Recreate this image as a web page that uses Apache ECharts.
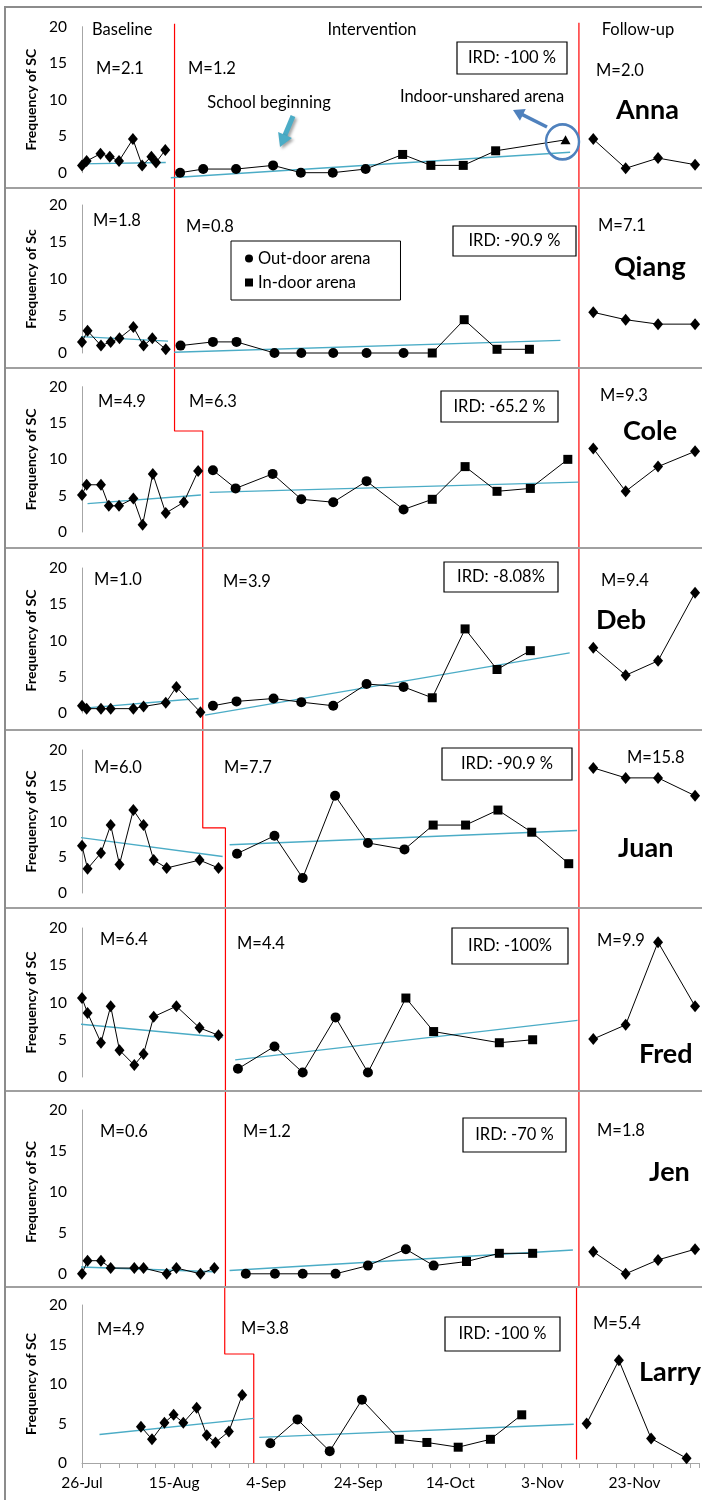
<!DOCTYPE html>
<html><head><meta charset="utf-8">
<script src="https://cdn.jsdelivr.net/npm/echarts@6/dist/echarts.min.js"></script>
<style>html,body{margin:0;padding:0;background:#fff}#c{width:702px;height:1500px}</style>
</head><body><div id="c"></div>
<script>
// ---------------- DATA (x = days since 26-Jul) ----------------
const participants = ['Anna','Qiang','Cole','Deb','Juan','Fred','Jen','Larry'];
const yNames = ['Frequency of SC','Frequency of Sc','Frequency of SC','Frequency of SC','Frequency of SC','Frequency of SC','Frequency of SC','Frequency of SC'];
const xTickLabels = ['26-Jul','15-Aug','4-Sep','24-Sep','14-Oct','3-Nov','23-Nov'];

const baseDays = [
  [0,1,4,6,8,11,13,15,16,18],
  [0,1.2,4.1,6.2,8.1,11.1,13.3,15.2,18.1],
  [0,1,4.1,5.8,8,11.1,13.1,15.3,18.1,22,25.1],
  [0,1,4.1,6.2,11.1,13.3,18.1,20.4,25.6],
  [0,1.2,4.1,6.2,8.1,11.1,13.3,15.5,18.3,25.4,29.5],
  [0,1.2,4.1,6.2,8.1,11.3,13.3,15.5,20.4,25.4,29.5],
  [0,1.2,4.1,6.2,11.3,13.3,18.3,20.4,25.6,28.6],
  [12.8,15.2,17.9,19.9,22,24.9,27.1,29,31.9,34.8]
];
const baseVals = [
  [1.0,1.6,2.6,2.2,1.6,4.6,1.0,2.2,1.4,3.1],
  [1.5,3.0,1.0,1.5,2.0,3.5,1.0,2.0,0.5],
  [5.1,6.5,6.5,3.6,3.6,4.6,1.0,8.0,2.6,4.1,8.4],
  [1.0,0.6,0.6,0.6,0.6,0.9,1.4,3.6,0.1],
  [6.6,3.4,5.6,9.5,4.0,11.6,9.5,4.6,3.5,4.6,3.5],
  [10.6,8.6,4.6,9.5,3.6,1.6,3.1,8.1,9.5,6.6,5.6],
  [0,1.6,1.6,0.7,0.7,0.7,0,0.7,0,0.7],
  [4.6,3.0,5.1,6.1,5.1,7.0,3.5,2.6,4.0,8.6]
];
const intDays = [
  [21.2,26.2,33.3,41.3,47.3,54.2,61.3,69.3,75.4,82.4,89.4,104.5],
  [21.3,28.3,33.4,41.6,47.4,54.3,61.5,69.5,75.7,82.6,89.7,96.7],
  [28.3,33.2,41.2,47.4,54.3,61.5,69.5,75.7,82.8,89.7,96.9,105],
  [28.3,33.4,41.4,47.4,54.3,61.5,69.5,75.7,82.8,89.7,96.9],
  [33.5,41.6,47.7,54.7,61.8,69.7,75.9,82.9,89.9,97.2,105.2],
  [33.7,41.6,47.7,54.8,61.8,70,76,90.2,97.4],
  [35.4,41.7,47.7,54.8,61.8,70,76,83.1,90.2,97.4],
  [40.9,46.8,53.8,60.8,68.9,74.9,81.7,88.7,95.5]
];
const intVals = [
  [0,0.5,0.5,1.0,0,0,0.5,2.5,1.0,1.0,3.0,4.5],
  [1.0,1.5,1.5,0,0,0,0,0,0,4.5,0.5,0.5],
  [8.5,6.0,8.0,4.5,4.1,7.0,3.1,4.5,9.0,5.6,6.0,10.0],
  [1.0,1.6,2.0,1.5,1.0,4.0,3.6,2.1,11.6,6.0,8.6],
  [5.5,8.0,2.1,13.6,7.0,6.1,9.5,9.5,11.6,8.5,4.1],
  [1.1,4.1,0.6,8.0,0.6,10.6,6.1,4.6,5.0],
  [0,0,0,0,1.0,3.0,1.0,1.5,2.5,2.5],
  [2.5,5.5,1.5,8.0,3.0,2.6,2.0,3.0,6.1]
];
// o = out-door arena, i = in-door arena, u = indoor-unshared arena
const intArena = [
  'oooooooiiiiu',
  'ooooooooiiii',
  'oooooooiiiii',
  'oooooooiiii',
  'ooooooiiiii',
  'oooooiiii',
  'oooooooiii',
  'ooooiiiii'
];
const followDays = [
  [110.5,117.5,124.5,132.5],[110.5,117.5,124.5,132.5],[110.5,117.5,124.5,132.5],[110.5,117.5,124.5,132.5],
  [110.5,117.5,124.5,132.5],[110.5,117.5,124.5,132.5],[110.5,117.5,124.5,132.5],[109.6,116.6,123.6,131.3]
];
const followVals = [
  [4.6,0.6,2.0,1.1],
  [5.5,4.5,3.9,3.9],
  [11.5,5.6,9.0,11.1],
  [9.0,5.2,7.2,16.6],
  [17.5,16.1,16.1,13.6],
  [5.1,7.0,18.1,9.5],
  [2.7,0,1.7,3.0],
  [5.0,13.0,3.1,0.6]
];
const baseTrend = [
  [[-1.0,1.2],[18.1,1.4]],
  [[-1.5,2.25],[18.6,1.6]],
  [[1.2,3.9],[25.7,5.1]],
  [[-0.8,0.6],[25.2,2.0]],
  [[-0.8,7.8],[30.4,5.1]],
  [[-0.5,7.1],[30.4,5.3]],
  [[-0.8,0.85],[28.6,0.25]],
  [[3.8,3.6],[37.3,5.65]]
];
const intTrend = [
  [[19.2,-0.7],[105.5,2.8]],
  [[19.9,0.1],[103.4,1.7]],
  [[27.6,5.45],[107.3,6.86]],
  [[26.6,-0.3],[105.4,8.3]],
  [[31.9,6.75],[107,8.75]],
  [[33.1,2.3],[107.1,7.6]],
  [[31.9,0.4],[106.1,2.9]],
  [[38.5,3.25],[106.8,4.9]]
];
// phase change line: x where it crosses the panel's lower part; optional step (from x, at level)
const phaseDay = [20,20,26.1,26.1,31,31,31,37.3];
const phaseStepFrom = [null,null,20,null,26.1,null,null,31];
const phaseStepLevel = [null,null,13.9,null,9.1,null,null,13.8];
const followPhaseDay = 107.4;

const baseMeans = ['M=2.1','M=1.8','M=4.9','M=1.0','M=6.0','M=6.4','M=0.6','M=4.9'];
const intMeans = ['M=1.2','M=0.8','M=6.3','M=3.9','M=7.7','M=4.4','M=1.2','M=3.8'];
const followMeans = ['M=2.0','M=7.1','M=9.3','M=9.4','M=15.8','M=9.9','M=1.8','M=5.4'];
const irdLabels = ['IRD: -100 %','IRD: -90.9 %','IRD: -65.2 %','IRD: -8.08%','IRD: -90.9 %','IRD: -100%','IRD: -70 %','IRD: -100 %'];

// ---------------- LAYOUT ----------------
const FONT = 'Lato';
const TS = 16.5;
const layout = [
  {y20:26.7, y0:172.7, sepTop:7, sepBot:188},
  {y20:205, y0:353, sepTop:188, sepBot:368},
  {y20:386.7, y0:532, sepTop:368, sepBot:548},
  {y20:568, y0:713, sepTop:548, sepBot:730},
  {y20:750, y0:893, sepTop:730, sepBot:908},
  {y20:928, y0:1077, sepTop:908, sepBot:1091},
  {y20:1110, y0:1273.8, sepTop:1091, sepBot:1287},
  {y20:1305, y0:1463, sepTop:1287, sepBot:1500}
];
const textPos = [
  {bm:[96,69], im:[188,69], fm:[596,71], ird:[457,42,110,32], name:[616,110]},
  {bm:[93,221], im:[186,227], fm:[598,226], ird:[453,226,123,30], name:[614,267]},
  {bm:[98,402], im:[189,402], fm:[600,396], ird:[441,391,117,31], name:[623,431]},
  {bm:[94,580], im:[223,582], fm:[601,581], ird:[444,562,114,30], name:[596,620]},
  {bm:[94,768], im:[224,768], fm:[627,758], ird:[442,748,130,32], name:[618,848]},
  {bm:[100,940], im:[237,944], fm:[597,941], ird:[452,928,116,36], name:[639,1054]},
  {bm:[100,1132], im:[243,1132], fm:[597,1131], ird:[463,1118,103,34], name:[649,1172]},
  {bm:[97,1330], im:[241,1329], fm:[593,1324], ird:[445,1317,115,34], name:[639,1372]}
];

const zip = (a,b) => a.map((v,k)=>[v,b[k]]);
const grids=[], xAxes=[], yAxes=[], series=[], graphics=[];

function txt(x,y,s,o){
  o=o||{};
  return {type:'text', x:x, y:y, z:100, silent:true, style:{text:s, fontSize:o.size||TS, fontFamily:FONT,
    fontWeight:o.weight||'normal', fill:'#000', align:o.align||'left', verticalAlign:'middle'}};
}
function arrow(x1,y1,x2,y2,color,w,hl,hw,shadow){
  const a=Math.atan2(y2-y1,x2-x1);
  const bx=x2-hl*Math.cos(a), by=y2-hl*Math.sin(a);
  const px=-Math.sin(a), py=Math.cos(a);
  const sh = shadow ? {shadowBlur:3, shadowColor:'rgba(0,0,0,0.35)', shadowOffsetX:2, shadowOffsetY:2} : {};
  return [
    {type:'line', z:100, silent:true, shape:{x1:x1,y1:y1,x2:bx+(x2-bx)*0.2,y2:by+(y2-by)*0.2}, style:Object.assign({stroke:color, lineWidth:w}, sh)},
    {type:'polygon', z:100, silent:true, shape:{points:[[x2,y2],[bx+px*hw/2,by+py*hw/2],[bx-px*hw/2,by-py*hw/2]]}, style:Object.assign({fill:color}, sh)}
  ];
}

participants.forEach((p,i)=>{
  const L = layout[i];
  const last = i===participants.length-1;
  grids.push({left:82, right:0, top:L.y20, height:L.y0-L.y20});
  xAxes.push({gridIndex:i, type:'value', min:0, max:134, interval:4, show:last,
    axisLine:{show:last, lineStyle:{color:'#a6a6a6', width:1}},
    axisTick:{show:last, length:5, lineStyle:{color:'#a6a6a6'}},
    axisLabel:{show:last, fontSize:15.5, color:'#000', fontFamily:FONT, margin:12,
      formatter:v => (v%20===0 && v/20 < xTickLabels.length) ? xTickLabels[v/20] : ''},
    splitLine:{show:false}});
  yAxes.push({gridIndex:i, type:'value', min:0, max:20, interval:5,
    axisLine:{show:true, lineStyle:{color:'#a6a6a6', width:1}},
    axisTick:{show:false}, splitLine:{show:false},
    axisLabel:{fontSize:15.5, color:'#000', fontFamily:FONT, margin:15},
    name:yNames[i], nameLocation:'middle', nameGap:38, nameRotate:90,
    nameTextStyle:{fontSize:14, fontWeight:'bold', color:'#000', fontFamily:FONT}});

  const ppu=(L.y0-L.y20)/20;
  let vTop = 20+(L.y20-L.sepTop)/ppu;
  let vBot = -(L.sepBot-L.y0)/ppu;
  const common = {xAxisIndex:i, yAxisIndex:i, silent:true, animation:false};

  // phase-change lines (red)
  let pTop = i===0 ? 20.4 : vTop;
  let pBot = last ? 0 : vBot;
  let pl;
  if (phaseStepFrom[i]!==null) {
    pl=[[phaseStepFrom[i],pTop],[phaseStepFrom[i],phaseStepLevel[i]],[phaseDay[i],phaseStepLevel[i]],[phaseDay[i],pBot]];
  } else pl=[[phaseDay[i],pTop],[phaseDay[i],pBot]];
  series.push(Object.assign({type:'line', data:pl, symbol:'none', clip:false, z:1,
    lineStyle:{color:'#ff0000', width:1.2}}, common));
  series.push(Object.assign({type:'line', data:[[followPhaseDay, i===0?20.55:vTop],[followPhaseDay, last?0.45:vBot]],
    symbol:'none', clip:false, z:1, lineStyle:{color:'#ff0000', width:1.2}}, common));

  // trend lines
  [baseTrend[i], intTrend[i]].forEach(t=>{
    series.push(Object.assign({type:'line', data:t, symbol:'none', clip:false, z:2,
      lineStyle:{color:'#4bacc6', width:1.4}}, common));
  });

  const blk = {color:'#000', opacity:1};
  // baseline
  series.push(Object.assign({type:'line', name:'Baseline', data:zip(baseDays[i],baseVals[i]), clip:false, z:3,
    symbol:'diamond', symbolSize:[10,12], showAllSymbol:true,
    lineStyle:{color:'#000', width:1}, itemStyle:blk}, common));
  // intervention connecting line
  series.push(Object.assign({type:'line', data:zip(intDays[i],intVals[i]), symbol:'none', clip:false, z:3,
    lineStyle:{color:'#000', width:1}}, common));
  const pts = (ch)=> intDays[i].map((d,k)=>[d,intVals[i][k],intArena[i][k]]).filter(q=>q[2]===ch).map(q=>[q[0],q[1]]);
  series.push(Object.assign({type:'scatter', name:'Out-door arena', data:pts('o'), symbol:'circle', symbolSize:10, clip:false, z:4,
    itemStyle:blk}, common));
  series.push(Object.assign({type:'scatter', name:'In-door arena', data:pts('i'), symbol:'rect', symbolSize:9, clip:false, z:4,
    itemStyle:blk}, common));
  const u = pts('u');
  if (u.length) {
    series.push(Object.assign({type:'scatter', name:'Indoor-unshared arena', data:u, symbol:'triangle', symbolSize:[10,9], clip:false, z:4,
      itemStyle:blk}, common));
    series.push(Object.assign({type:'scatter', data:u, symbol:'circle', symbolSize:[33,35], symbolOffset:[-3,2], clip:false, z:5,
      itemStyle:{color:'rgba(0,0,0,0)', opacity:1, borderColor:'#4f81bd', borderWidth:2.5}}, common));
  }
  // follow-up
  series.push(Object.assign({type:'line', name:'Follow-up', data:zip(followDays[i],followVals[i]), clip:false, z:3,
    symbol:'diamond', symbolSize:[10,12], lineStyle:{color:'#000', width:1}, itemStyle:blk}, common));

  // texts
  const T=textPos[i];
  graphics.push(txt(T.bm[0],T.bm[1],baseMeans[i]));
  graphics.push(txt(T.im[0],T.im[1],intMeans[i]));
  graphics.push(txt(T.fm[0],T.fm[1],followMeans[i]));
  graphics.push({type:'rect', z:99, silent:true, shape:{x:T.ird[0],y:T.ird[1],width:T.ird[2],height:T.ird[3]},
    style:{fill:'#fff', stroke:'#000', lineWidth:1.2}});
  graphics.push(txt(T.ird[0]+T.ird[2]/2, T.ird[1]+T.ird[3]/2, irdLabels[i], {align:'center'}));
  graphics.push(txt(T.name[0],T.name[1],p,{size:27, weight:'bold'}));

  // separator
  if (i>0) graphics.push({type:'line', z:90, silent:true, shape:{x1:5,y1:L.sepTop,x2:702,y2:L.sepTop}, style:{stroke:'#a0a0a0', lineWidth:2}});
});

// frame
graphics.push({type:'line', z:90, silent:true, shape:{x1:5,y1:7,x2:702,y2:7}, style:{stroke:'#8c8c8c', lineWidth:2}});
graphics.push({type:'line', z:90, silent:true, shape:{x1:5,y1:6,x2:5,y2:1500}, style:{stroke:'#8c8c8c', lineWidth:2}});
// phase headers
graphics.push(txt(92,30,'Baseline'));
graphics.push(txt(372,30,'Intervention',{align:'center'}));
graphics.push(txt(638,30,'Follow-up',{align:'center'}));
// annotations in Anna's panel
graphics.push(txt(269,103,'School beginning',{align:'center'}));
graphics.push(txt(482,97,'Indoor-unshared arena',{align:'center'}));
arrow(293,116,280,147,'#4bacc6',5,13,15,true).forEach(g=>graphics.push(g));
arrow(547,127,513,110,'#4f81bd',3.5,11,13,false).forEach(g=>graphics.push(g));

const chart = echarts.init(document.getElementById('c'));
chart.setOption({
  animation:false,
  grid:grids, xAxis:xAxes, yAxis:yAxes, series:series, graphic:graphics,
  legend:{left:231, top:241, orient:'vertical', selectedMode:false,
    borderColor:'#000', borderWidth:1, padding:[9,30,9,14], itemGap:7, itemWidth:8, itemHeight:8,
    textStyle:{fontSize:TS, fontFamily:FONT, color:'#000'},
    data:[{name:'Out-door arena', icon:'circle'},{name:'In-door arena', icon:'rect'}]}
});
</script></body></html>
